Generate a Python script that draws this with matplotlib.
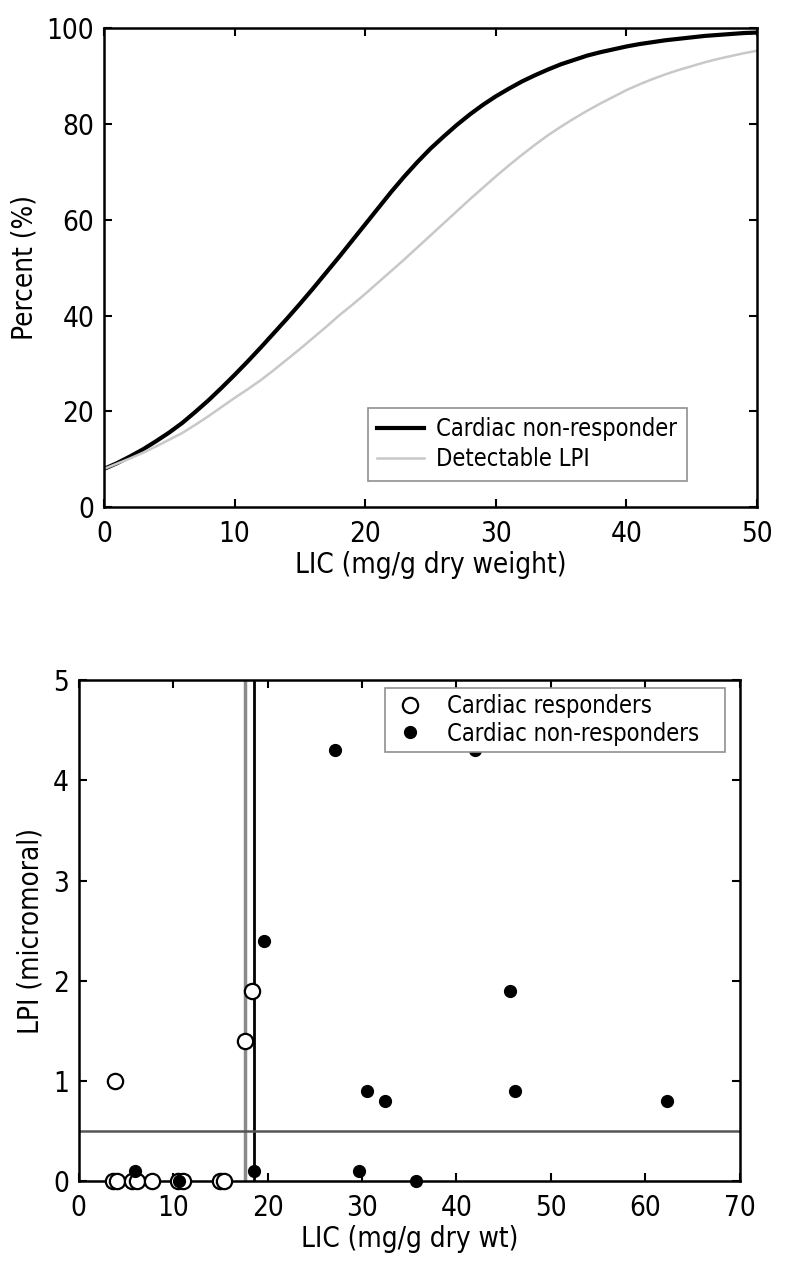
import matplotlib.pyplot as plt

plt.rcParams["font.family"] = ["DejaVu Sans"]
plt.rcParams["font.stretch"] = "condensed"

# --- top panel: percent curves vs LIC ---
lic_curve = list(range(0, 51))
pct_nonresp = [8.0, 9.2, 10.6, 12.1, 13.8, 15.6, 17.6, 19.9, 22.3, 24.9, 27.6,
               30.4, 33.3, 36.3, 39.3, 42.4, 45.6, 48.9, 52.2, 55.6, 59.0,
               62.4, 65.8, 69.0, 72.0, 74.8, 77.3, 79.7, 81.9, 83.9, 85.7,
               87.3, 88.8, 90.1, 91.3, 92.4, 93.3, 94.2, 94.9, 95.5, 96.1,
               96.6, 97.0, 97.4, 97.7, 98.0, 98.3, 98.5, 98.7, 98.9, 99.0]
pct_lpi = [8.0, 9.1, 10.2, 11.4, 12.7, 14.1, 15.5, 17.2, 19.0, 20.9, 22.8,
           24.6, 26.5, 28.6, 30.8, 33.0, 35.3, 37.6, 40.0, 42.2, 44.5,
           46.9, 49.3, 51.7, 54.2, 56.7, 59.2, 61.7, 64.2, 66.6, 69.0,
           71.3, 73.5, 75.6, 77.6, 79.4, 81.1, 82.7, 84.2, 85.6, 87.0,
           88.2, 89.3, 90.3, 91.2, 92.0, 92.8, 93.5, 94.1, 94.7, 95.2]

# --- bottom panel: LPI vs LIC scatter ---
resp_lic = [3.6, 4.1, 5.6, 6.2, 7.8, 10.5, 11.0, 15.0, 15.4, 3.8, 17.6, 18.4]
resp_lpi = [0, 0, 0, 0, 0, 0, 0, 0, 0, 1.0, 1.4, 1.9]
nonresp_lic = [6.0, 10.6, 18.6, 19.6, 27.1, 42.0, 29.7, 30.5, 32.4, 35.7,
               45.7, 46.2, 62.3]
nonresp_lpi = [0.1, 0, 0.1, 2.4, 4.3, 4.3, 0.1, 0.9, 0.8, 0, 1.9, 0.9, 0.8]
cut_lic_gray = 17.6
cut_lic_black = 18.6
cut_lpi = 0.5

fig = plt.figure(figsize=(7.87, 12.62), dpi=100)


def style(ax):
    ax.tick_params(direction="in", top=True, right=True, length=6, width=1.5,
                   labelsize=20)
    ax.tick_params(axis="x", pad=9)
    ax.tick_params(axis="y", pad=7)
    for s in ax.spines.values():
        s.set_linewidth(1.8)


ax1 = fig.add_axes([0.132, 0.598, 0.830, 0.380])
ax1.plot(lic_curve, pct_nonresp, color="black", lw=3, label="Cardiac non-responder")
ax1.plot(lic_curve, pct_lpi, color="#c8c8c8", lw=1.8, label="Detectable LPI")
ax1.set_xlim(0, 50)
ax1.set_ylim(0, 100)
ax1.set_xticks(range(0, 51, 10))
ax1.set_yticks(range(0, 101, 20))
ax1.set_xlabel("LIC (mg/g dry weight)", fontsize=20, labelpad=2)
ax1.set_ylabel("Percent (%)", fontsize=20, labelpad=6)
style(ax1)
leg1 = ax1.legend(loc="upper left", bbox_to_anchor=(0.404, 0.207), fontsize=17,
                  frameon=True, fancybox=False, framealpha=1, handlelength=2.0,
                  borderpad=0.4, labelspacing=0.25, handletextpad=0.5,
                  borderaxespad=0)
leg1.get_frame().set_edgecolor("#909090")
leg1.get_frame().set_linewidth(1.2)

ax2 = fig.add_axes([0.100, 0.064, 0.840, 0.397])
ax2.axvline(cut_lic_gray, color="#8a8a8a", lw=2.5, zorder=1)
ax2.axvline(cut_lic_black, color="black", lw=2, zorder=1)
ax2.axhline(cut_lpi, color="#555555", lw=1.8, zorder=1)
ax2.plot(resp_lic, resp_lpi, "o", ls="none", mfc="white", mec="black",
         ms=11, mew=1.6, label="Cardiac responders", zorder=3, clip_on=False)
ax2.plot(nonresp_lic, nonresp_lpi, "o", ls="none", color="black",
         ms=8.5, label="Cardiac non-responders", zorder=3, clip_on=False)
ax2.set_xlim(0, 70)
ax2.set_ylim(0, 5)
ax2.set_xticks(range(0, 71, 10))
ax2.set_yticks(range(0, 6))
ax2.set_xlabel("LIC (mg/g dry wt)", fontsize=20, labelpad=2)
ax2.set_ylabel("LPI (micromoral)", fontsize=20, labelpad=6)
style(ax2)
leg2 = ax2.legend(loc="upper left", bbox_to_anchor=(0.463, 0.5, 0.514, 0.484),
                  mode="expand", fontsize=17,
                  frameon=True, fancybox=False, framealpha=1, handlelength=1.6,
                  borderpad=0.25, labelspacing=0.15, handletextpad=0.8,
                  borderaxespad=0)
leg2.get_frame().set_edgecolor("#909090")
leg2.get_frame().set_linewidth(1.2)
leg2.set_zorder(5)

fig.savefig("out.png", dpi=100, facecolor="white")
